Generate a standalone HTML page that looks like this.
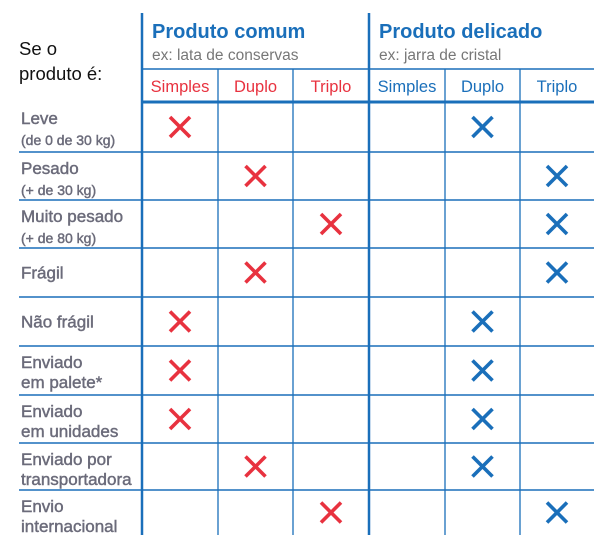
<!DOCTYPE html>
<html><head><meta charset="utf-8"><style>
body{margin:0;background:#fff;}
svg{display:block;font-family:"Liberation Sans",sans-serif;}
</style></head><body>
<svg id="chart" width="604" height="555" viewBox="0 0 604 555">
<text x="19" y="55" font-size="18.5" fill="#111">Se o</text>
<text x="19" y="80" font-size="18.5" fill="#111">produto é:</text>
<text x="152" y="38" font-size="20" font-weight="bold" fill="#1a6fba">Produto comum</text>
<text x="152" y="60" font-size="15.5" fill="#777">ex: lata de conservas</text>
<text x="379" y="38" font-size="20" font-weight="bold" fill="#1a6fba">Produto delicado</text>
<text x="379" y="60" font-size="15.5" fill="#777">ex: jarra de cristal</text>
<g id="grid"></g><g id="labels"></g><g id="marks"></g>
</svg>
<script>
const columns=["Simples","Duplo","Triplo","Simples","Duplo","Triplo"];
const rowLabels=[["Leve","(de 0 de 30 kg)"],["Pesado","(+ de 30 kg)"],["Muito pesado","(+ de 80 kg)"],["Frágil",""],["Não frágil",""],["Enviado","em palete*"],["Enviado","em unidades"],["Enviado por","transportadora"],["Envio","internacional"]];
const comumMarks=[0,1,2,1,0,0,0,1,2];
const delicadoMarks=[4,5,5,5,4,4,4,4,5];
const colX=[142,218,293,369,445,520,594];
const rowY=[102,152,200,248,297,346,395,443,490,535];
const NS="http://www.w3.org/2000/svg";
function mk(t,a,p){const e=document.createElementNS(NS,t);for(const k in a)e.setAttribute(k,a[k]);p.appendChild(e);return e;}
const grid=document.getElementById('grid'),lab=document.getElementById('labels'),marks=document.getElementById('marks');
const blue="#1a6fba",red="#e8323f",grey="#6b6b7a";
for(let i=0;i<colX.length-1;i++){
 const thick=(i===0||i===3);
 const l=mk('line',{x1:colX[i],x2:colX[i],y1:thick?13:69,y2:535,stroke:blue,'stroke-width':thick?2.5:1.3},grid);
 
 
 const t=mk('text',{x:(colX[i]+colX[i+1])/2,y:92,'text-anchor':'middle','font-size':16.5,fill:i<3?red:blue},lab);
 t.textContent=columns[i];
 
 
}
let hl=mk('line',{x1:142,x2:594,y1:69,y2:69,stroke:blue,'stroke-width':1.5},grid);


hl=mk('line',{x1:142,x2:594,y1:102,y2:102,stroke:blue,'stroke-width':3},grid);


for(let r=1;r<rowY.length-1;r++){
 const l=mk('line',{x1:19,x2:594,y1:rowY[r],y2:rowY[r],stroke:blue,'stroke-width':1.5},grid);
 
 
}
function xmark(c,r,col){
 const cx=(colX[c]+colX[c+1])/2,cy=(rowY[r]+rowY[r+1])/2,s=10;
 const g=mk('g',{stroke:col,'stroke-width':3.6},marks);
 
 
 mk('line',{x1:cx-s,y1:cy-s,x2:cx+s,y2:cy+s},g);mk('line',{x1:cx+s,y1:cy-s,x2:cx-s,y2:cy+s},g);
}
const txtAttr=(x,y,fs)=>({x:x,y:y,'font-size':fs,fill:grey,stroke:grey,'stroke-width':0.45});
rowLabels.forEach((lb,r)=>{
 const top=rowY[r],bot=rowY[r+1],mid=(top+bot)/2;
 const small=r<3;
 if(lb[1]===""){
  const t=mk('text',txtAttr(21,mid+6,17),lab);t.textContent=lb[0];
  
  
 }else{
  const t=mk('text',txtAttr(21,top+22,17),lab);t.textContent=lb[0];
  
  
  const t2=mk('text',txtAttr(21,top+(small?43:42),small?14:17),lab);t2.textContent=lb[1];
  
  
 }
 xmark(comumMarks[r],r,red);
 xmark(delicadoMarks[r],r,blue);
});
</script>
</body></html>
